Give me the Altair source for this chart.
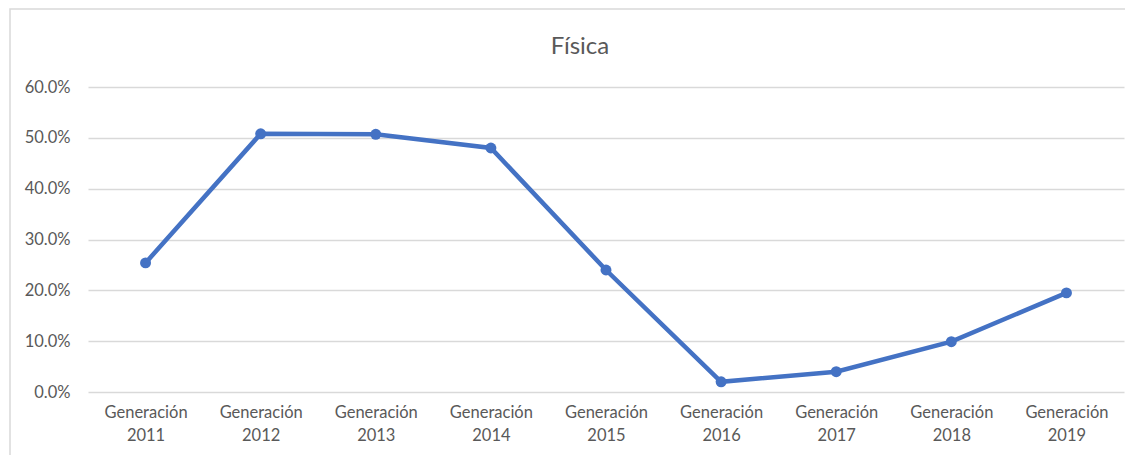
import altair as alt
import pandas as pd

categories = ["Generación 2011", "Generación 2012", "Generación 2013", "Generación 2014",
              "Generación 2015", "Generación 2016", "Generación 2017", "Generación 2018",
              "Generación 2019"]
values = [0.254, 0.508, 0.507, 0.480, 0.240, 0.020, 0.040, 0.099, 0.195]

df = pd.DataFrame({"cat": categories, "val": values})

W, H = 1036, 305
FONT = "Lato"
TXT = "#595959"
BLUE = "#4472C4"

base = alt.Chart(df).encode(
    x=alt.X("cat:N", sort=categories, title=None,
            axis=alt.Axis(labelAngle=0, labelExpr="split(datum.label, ' ')",
                          labelFontSize=16.5, labelColor=TXT, labelFont=FONT,
                          labelPadding=12, labelLineHeight=23,
                          domain=False, ticks=False, grid=False)),
    y=alt.Y("val:Q", title=None,
            scale=alt.Scale(domain=[0, 0.6], nice=False),
            axis=alt.Axis(format=".1%", values=[0, 0.1, 0.2, 0.3, 0.4, 0.5, 0.6],
                          labelFontSize=16.5, labelColor=TXT, labelFont=FONT,
                          labelPadding=18, domain=False, ticks=False,
                          grid=True, gridColor="#D9D9D9", gridWidth=1.3)),
)

line = base.mark_line(color=BLUE, strokeWidth=4.5)
pts = base.mark_circle(color=BLUE, size=120, opacity=1)

frame = alt.Chart(pd.DataFrame({"a": [0]})).mark_rect(
    fill=None, stroke="#D9D9D9", strokeWidth=1.5
).encode(x=alt.value(-78), x2=alt.value(W + 40), y=alt.value(-78), y2=alt.value(H + 90))

chart = alt.layer(frame, line, pts).properties(
    width=W, height=H,
    autosize=alt.AutoSizeParams(type="none"),
    padding={"left": 80, "top": 79, "right": 1, "bottom": 63},
    title=alt.TitleParams("Física", fontSize=24, font=FONT, color=TXT, fontWeight="normal",
                          anchor="middle", frame="group", dx=-26, offset=-70,
                          baseline="alphabetic"),
).configure(background="white").configure_view(strokeWidth=0, stroke="transparent")

chart.save("out.html", embed_options={"renderer": "svg", "actions": False})
